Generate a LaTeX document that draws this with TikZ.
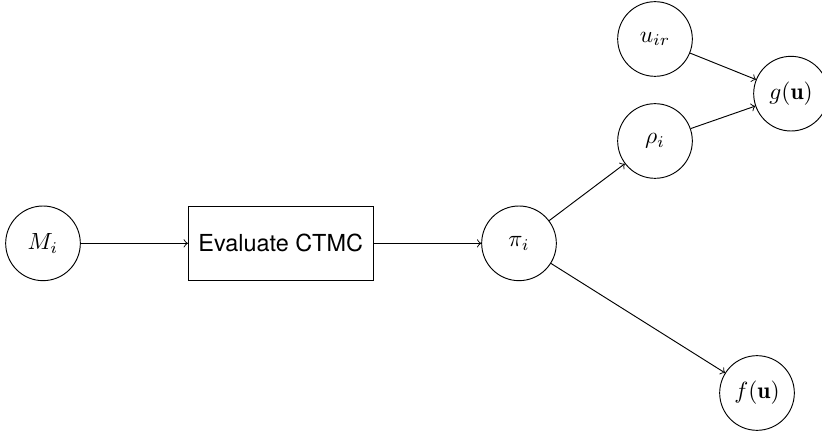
\documentclass[tikz,border=0pt]{standalone}
\usepackage{amsmath}
\usepackage{fontspec}
\setsansfont{TeX Gyre Heros}
\usetikzlibrary{arrows.meta}

\tikzset{
    var/.style = {circle, draw, black, minimum size=1.12cm, inner sep=0pt},
    block/.style = {rectangle, draw, black, minimum width=2.77cm, minimum height=1.12cm, font=\sffamily}
}

\begin{document}
\begin{tikzpicture}[>=to]
                \useasboundingbox (0,0) rectangle (12.33,6.525);
                % inputs and the CTMC evaluation
                \node[var] (m) at (0.645,2.875) {$M_i$};
                \node[block] (ctmc) at (4.21,2.875) {Evaluate CTMC};
                \node[var] (pi) at (7.785,2.875) {$\pi_i$};
                % quantities derived from pi
                \node[var] (rho) at (9.825,4.41) {$\rho_i$};
                \node[var] (u) at (9.825,5.94) {$u_{ir}$};
                \node[var] (g) at (11.865,5.12) {$g(\mathbf{u})$};
                \node[var] (f) at (11.355,0.63) {$f(\mathbf{u})$};

                \draw[->] (m) -- (ctmc);
                \draw[->] (ctmc) -- (pi);
                \draw[->] (pi) -- (rho);
                \draw[->] (pi) -- (f);
                \draw[->] (u) -- (g);
                \draw[->] (rho) -- (g);
            \end{tikzpicture}
\end{document}
